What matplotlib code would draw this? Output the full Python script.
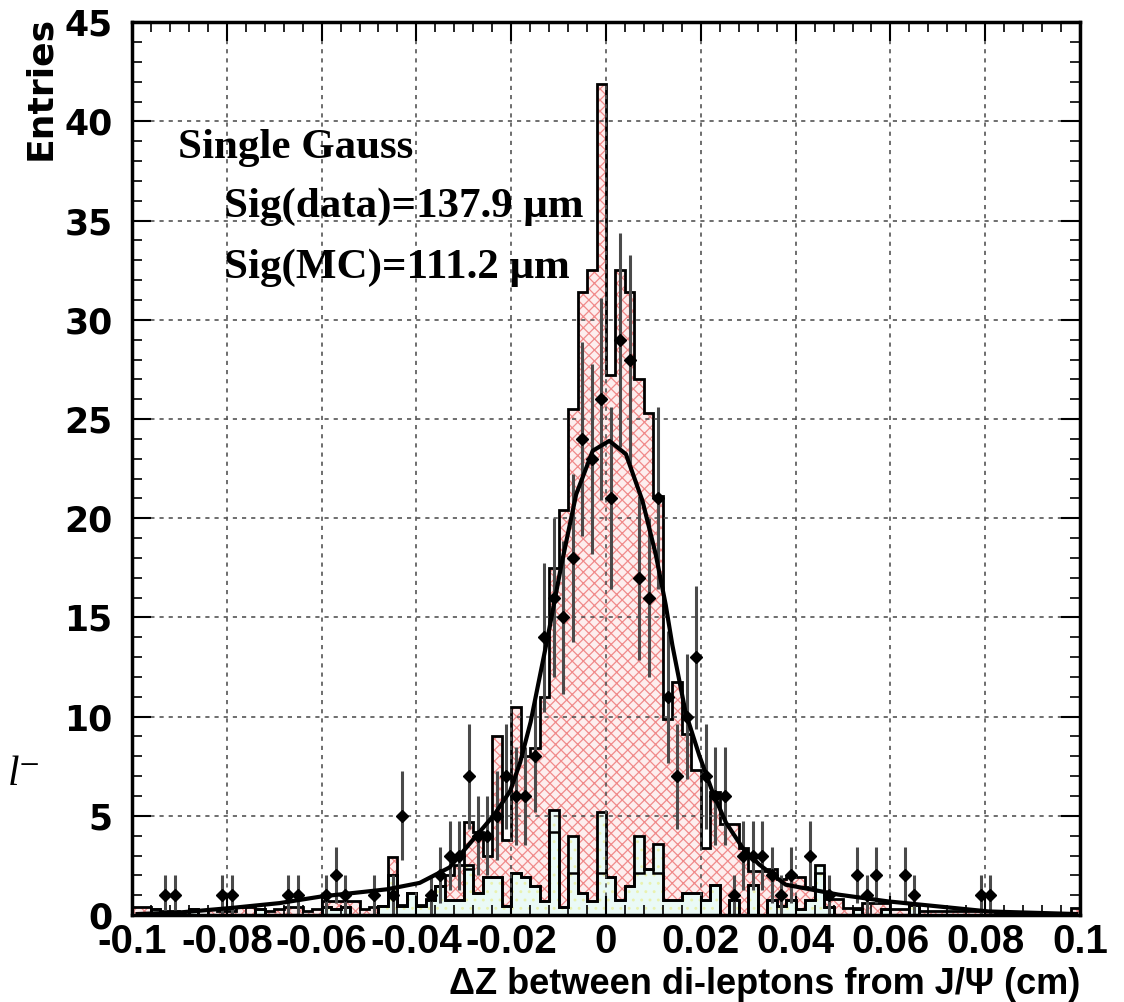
import matplotlib.pyplot as plt
import numpy as np
from matplotlib.ticker import MultipleLocator

# binning of the Delta-Z histograms (cm)
x_lo, x_hi, n_bins = -0.1, 0.1, 100

# data: non-empty bins (index) and their counts
data_bins = [3, 4, 9, 10, 16, 17, 20, 21, 22, 25, 27, 28, 31, 32, 33, 34, 35, 36, 37,
             38, 39, 40, 41, 42, 43, 44, 45, 46, 47, 48, 49, 50, 51, 52, 53, 54, 55,
             56, 57, 58, 59, 60, 61, 62, 63, 64, 65, 66, 67, 68, 69, 71, 73, 76, 77,
             78, 81, 82, 89, 90]
data_counts = [1, 1, 1, 1, 1, 1, 1, 2, 1, 1, 1, 5, 1, 2, 3, 3, 7, 4, 4,
               5, 7, 6, 6, 8, 14, 16, 15, 18, 24, 23, 26, 21, 29, 28, 17, 16, 21,
               11, 7, 10, 13, 7, 6, 6, 1, 3, 3, 3, 2, 1, 2, 3, 1, 2, 1,
               2, 2, 1, 1, 1]

# MC expectation (hatched)
mc_expect = [
    0.4, 0.4, 0.2, 0.2, 0.2, 0.0, 0.0, 0.0, 0.3, 0.2,
    0.2, 0.4, 0.4, 0.2, 0.2, 0.3, 0.4, 0.4, 0.2, 0.3,
    0.7, 0.7, 0.7, 0.7, 0.3, 0.4, 0.45, 2.9, 0.5, 1.1,
    0.5, 0.8, 1.45, 2.0, 2.5, 4.7, 4.2, 3.0, 9.0, 3.8,
    10.5, 8.0, 8.4, 11.0, 17.5, 20.4, 25.5, 31.4, 32.5, 41.9,
    27.2, 32.5, 31.4, 27.0, 25.3, 21.1, 9.9, 11.75, 9.1, 7.3,
    3.4, 6.2, 4.6, 4.6, 3.4, 2.2, 2.2, 2.3, 1.8, 1.9,
    1.9, 1.4, 1.4, 0.8, 0.8, 0.35, 0.35, 0.6, 0.6, 0.6,
    0.3, 0.3, 0.5, 0.2, 0.2, 0.2, 0.2, 0.2, 0.2, 0.2,
    0.2, 0.1, 0.1, 0.1, 0.1, 0.1, 0.1, 0.1, 0.1, 0.35,
]

# background component (total) and its lower part
bkg_total = [
    0.0, 0.0, 0.3, 0.0, 0.0, 0.0, 0.3, 0.0, 0.0, 0.0,
    0.0, 0.0, 0.0, 0.3, 0.0, 0.0, 0.0, 0.0, 0.0, 0.0,
    0.4, 0.3, 0.4, 0.0, 0.0, 0.0, 0.45, 2.0, 0.45, 1.1,
    0.45, 0.75, 1.45, 0.75, 0.75, 2.5, 1.1, 1.9, 1.9, 0.45,
    2.1, 1.9, 1.45, 0.7, 5.3, 0.4, 4.0, 1.1, 0.7, 5.2,
    1.9, 0.75, 1.45, 4.0, 2.3, 3.6, 0.75, 0.75, 1.1, 1.1,
    0.75, 1.5, 0.0, 0.75, 0.0, 1.5, 0.0, 0.75, 0.45, 0.75,
    0.3, 0.75, 2.5, 0.4, 0.0, 0.0, 0.3, 0.0, 0.0, 0.3,
    0.0, 0.0, 0.5, 0.0, 0.0, 0.0, 0.0, 0.0, 0.0, 0.0,
    0.0, 0.0, 0.0, 0.0, 0.0, 0.0, 0.0, 0.0, 0.0, 0.0,
]
part_bins = [35, 44, 46, 49, 53, 55, 72]
part_vals = [2.3, 4.2, 2.1, 2.1, 2.1, 2.1, 2.1]

# fitted curve, sampled along the plot
fit_x = [-0.0988, -0.0899, -0.0793, -0.0689, -0.0599, -0.0514, -0.0461, -0.0393,
         -0.0330, -0.0274, -0.0235, -0.0202, -0.0181, -0.0159, -0.0142, -0.0123,
         -0.0094, -0.0063, -0.0028, 0.0007, 0.0042, 0.0077, 0.0105, 0.0126,
         0.0140, 0.0168, 0.0197, 0.0225, 0.0253, 0.0288, 0.0323, 0.0379,
         0.0490, 0.0594, 0.0807, 0.0992]
fit_y = [0.05, 0.13, 0.35, 0.60, 0.94, 1.16, 1.30, 1.62,
         2.40, 3.98, 5.08, 6.26, 7.70, 9.73, 11.75, 14.0,
         17.66, 21.2, 23.4, 23.9, 23.23, 20.87, 18.17, 15.63,
         13.6, 10.2, 8.03, 6.18, 4.66, 3.39, 2.55, 1.53,
         1.03, 0.69, 0.18, 0.05]

x_ticks = [-0.1, -0.08, -0.06, -0.04, -0.02, 0.0, 0.02, 0.04, 0.06, 0.08, 0.1]
x_tick_labels = ["-0.1", "-0.08", "-0.06", "-0.04", "-0.02", "0",
                 "0.02", "0.04", "0.06", "0.08", "0.1"]
y_ticks = [0, 5, 10, 15, 20, 25, 30, 35, 40, 45]

edges = np.linspace(x_lo, x_hi, n_bins + 1)
centers = 0.5 * (edges[:-1] + edges[1:])
half_w = 0.5 * (edges[1] - edges[0])

bkg_part = np.array(bkg_total, dtype=float)
bkg_part[part_bins] = part_vals

plt.rcParams["hatch.linewidth"] = 0.9

fig = plt.figure(figsize=(11.24, 10.02), dpi=100)
ax = fig.add_axes([0.1174, 0.0868, 0.8435, 0.891])

# MC: pink cross-hatch with black outline
ax.stairs(mc_expect, edges, fill=True, facecolor="#fdeeee", edgecolor="#f08a8a",
          hatch="xxx", linewidth=0, zorder=1)
ax.stairs(mc_expect, edges, color="black", linewidth=2.0, zorder=1.2)

# background on top
ax.stairs(bkg_total, edges, fill=True, facecolor="#eafaf6", edgecolor="#e9f2b0",
          hatch="..", linewidth=0, zorder=1.4)
ax.stairs(bkg_total, edges, color="black", linewidth=2.0, zorder=1.5)
ax.stairs(bkg_part, edges, color="black", linewidth=1.8, zorder=1.5)

# data points with Poisson errors
dx = centers[data_bins]
dy = np.array(data_counts, dtype=float)
ax.errorbar(dx, dy, yerr=np.sqrt(dy), xerr=half_w, fmt="D", color="#4a4a4a",
            ecolor="#4a4a4a", elinewidth=2.2, markersize=6.5, markerfacecolor="black",
            markeredgecolor="black", capsize=0, zorder=3)

# fit
ax.plot(fit_x, fit_y, color="black", linewidth=3.0, zorder=4)

ax.set_xlim(x_lo, x_hi)
ax.set_ylim(0, 45)
ax.set_xticks(x_ticks)
ax.set_xticklabels(x_tick_labels, family="Liberation Sans", fontweight="bold", fontsize=29)
ax.set_yticks(y_ticks)
ax.set_yticklabels([str(v) for v in y_ticks], family="DejaVu Sans", fontweight="bold",
                   fontsize=25)
ax.xaxis.set_minor_locator(MultipleLocator(0.004))
ax.yaxis.set_minor_locator(MultipleLocator(1))
ax.tick_params(which="both", direction="in", top=True, right=True, colors="black")
ax.tick_params(axis="x", which="major", length=14, width=1.5, pad=6)
ax.tick_params(axis="y", which="major", length=14, width=1.5, pad=14)
ax.tick_params(which="minor", length=7, width=1.2)

ax.set_axisbelow(False)
ax.grid(True, which="major", color="#555555", linestyle=(0, (2.5, 3)), linewidth=1.2)
for s in ax.spines.values():
    s.set_linewidth(2.5)
    s.set_zorder(5)

fig.text(40 / 1124, 1 - 16 / 1002, "Entries", rotation=90, ha="center", va="top",
         family="DejaVu Sans", fontweight="bold", fontsize=26)
fig.text(1080 / 1124, 1 - 994 / 1002, "\u0394Z between di-leptons from J/\u03a8 (cm)",
         ha="right", va="baseline", family="Liberation Sans", fontweight="bold",
         fontsize=26)
fig.text(8 / 1124, 1 - 785 / 1002, "l\u207b", ha="left", va="baseline",
         family=["Liberation Serif", "DejaVu Serif"], style="italic", fontsize=30)

serif = "Liberation Serif"
ax.text(-0.0903, 38.17, "Single Gauss", family=serif, fontweight="bold", fontsize=31,
        va="baseline", ha="left", zorder=6)
ax.text(-0.0806, 35.2, "Sig(data)=137.9 \u03bcm", family=serif, fontweight="bold",
        fontsize=31, va="baseline", ha="left", zorder=6)
ax.text(-0.0806, 32.1, "Sig(MC)=111.2 \u03bcm", family=serif, fontweight="bold",
        fontsize=31, va="baseline", ha="left", zorder=6)

fig.savefig("out.png", dpi=100, facecolor="white")
